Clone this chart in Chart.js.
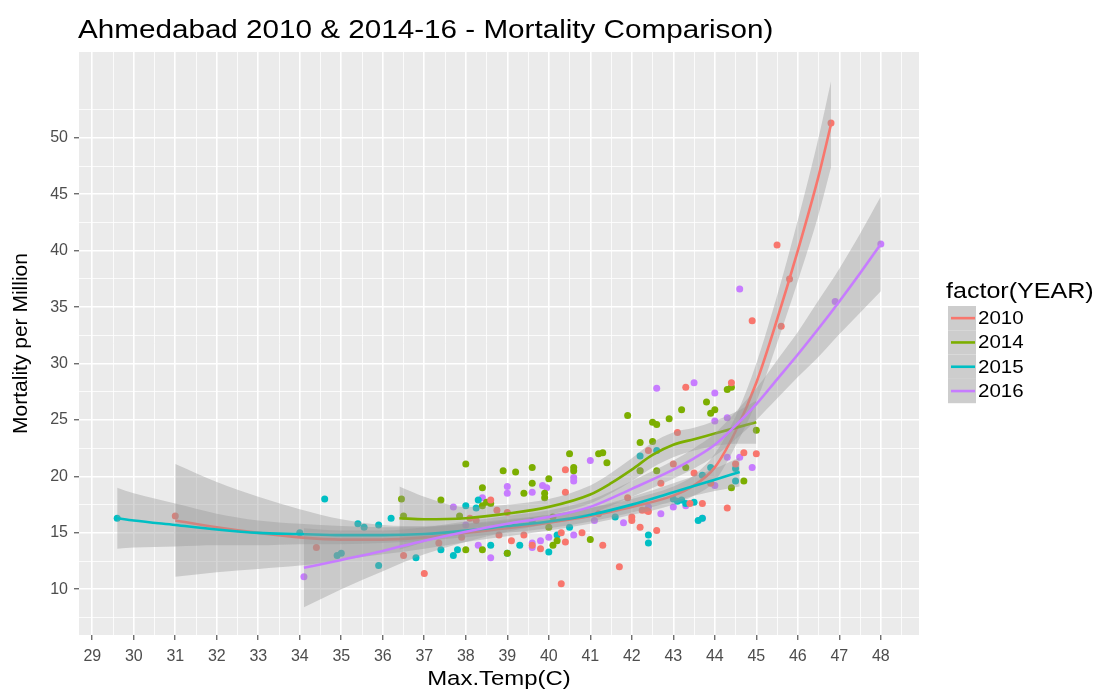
<!DOCTYPE html>
<html>
<head>
<meta charset="utf-8">
<script src="https://cdn.jsdelivr.net/npm/chart.js@4.4.1/dist/chart.umd.min.js"></script>
<style>
  html, body { margin: 0; padding: 0; background: #fff; }
</style>
</head>
<body>
<canvas id="chart" width="1098" height="692"></canvas>
<script>
const years = ['2010', '2014', '2015', '2016'];
const colors = ['#F8766D', '#7CAE00', '#00BFC4', '#C77CFF'];
const xTicks = [29, 30, 31, 32, 33, 34, 35, 36, 37, 38, 39, 40, 41, 42, 43, 44, 45, 46, 47, 48];
const yTicks = [10, 15, 20, 25, 30, 35, 40, 45, 50];

// observations: [Max.Temp, mortality per million]
const points2010 = [[31.0,16.5],[34.4,13.7],[36.5,13.0],[37.0,11.4],[37.35,14.1],[37.9,14.6],[38.1,16.3],[38.25,16.1],[38.6,17.9],[38.75,17.0],[38.8,14.8],[39.0,16.8],[39.1,14.3],[39.4,14.8],[39.6,13.9],[39.8,13.6],[40.3,15.0],[40.3,10.5],[40.4,14.2],[40.4,18.6],[40.4,20.6],[40.8,15.0],[41.2,16.7],[41.3,13.9],[41.7,12.0],[41.9,18.1],[42.0,16.4],[42.0,16.1],[42.2,15.5],[42.25,17.0],[42.35,17.0],[42.4,16.9],[42.4,22.3],[42.6,15.2],[42.7,19.4],[43.0,21.1],[43.1,23.9],[43.3,27.9],[43.4,17.6],[43.5,20.3],[43.7,17.6],[43.9,19.4],[44.3,17.2],[44.4,28.3],[44.5,21.1],[44.7,22.1],[44.9,33.8],[45.0,22.0],[45.5,40.5],[45.6,33.3],[45.8,37.5],[46.8,51.3]];
const points2014 = [[36.45,18.0],[36.5,16.5],[37.4,17.9],[37.85,16.5],[38.0,21.1],[38.0,13.5],[38.4,19.0],[38.4,17.4],[38.5,17.7],[38.6,17.6],[38.4,13.5],[38.9,20.5],[39.0,13.2],[39.2,20.4],[39.4,18.5],[39.6,19.4],[39.6,20.8],[39.9,18.5],[39.9,18.1],[40.0,19.8],[40.1,16.4],[40.0,15.5],[40.1,13.9],[40.2,14.3],[40.5,22.0],[40.6,20.8],[40.6,20.5],[41.0,14.4],[41.2,22.0],[41.3,22.1],[41.4,21.2],[41.9,25.4],[42.2,23.0],[42.2,20.5],[42.5,23.1],[42.5,24.8],[42.6,24.6],[42.6,20.5],[42.9,25.1],[43.2,25.9],[43.3,20.8],[43.8,26.6],[43.9,25.6],[44.0,25.9],[44.3,27.7],[44.4,27.9],[44.4,19.0],[44.7,19.6],[45.0,24.1]];
const points2015 = [[29.6,16.3],[34.0,15.0],[34.6,18.0],[34.9,13.0],[35.0,13.2],[35.4,15.8],[35.55,15.5],[35.9,15.7],[35.9,12.1],[36.2,16.3],[36.8,12.8],[37.4,13.5],[37.7,13.0],[37.8,13.5],[38.0,17.4],[38.25,17.2],[38.3,17.9],[38.6,13.9],[39.0,13.2],[39.3,13.9],[39.6,16.0],[40.0,13.3],[40.2,14.8],[40.5,15.5],[41.6,16.4],[42.2,21.8],[42.4,14.8],[42.4,14.1],[42.6,22.3],[43.0,18.0],[43.1,17.8],[43.2,17.9],[43.3,17.6],[43.5,17.7],[43.6,16.1],[43.7,16.3],[43.7,20.1],[43.9,20.8],[44.5,20.7],[44.5,19.6]];
const points2016 = [[34.1,11.1],[37.7,17.3],[38.0,15.7],[38.3,13.9],[38.4,18.1],[38.6,12.8],[39.0,19.1],[39.0,18.5],[39.6,18.6],[39.6,14.1],[39.6,13.7],[39.8,14.3],[39.85,19.2],[39.95,19.0],[40.0,14.6],[40.6,19.9],[40.6,19.6],[40.6,14.8],[41.0,21.4],[41.1,16.1],[41.8,15.9],[42.2,20.5],[42.4,17.3],[42.6,27.8],[42.7,16.7],[43.0,17.3],[43.3,17.4],[43.5,28.3],[43.7,16.3],[44.0,27.4],[44.0,24.9],[44.0,19.2],[44.3,25.2],[44.3,21.7],[44.6,36.6],[44.6,21.7],[44.9,20.8],[46.9,35.5],[48.0,40.6]];

// smoothed fits with their confidence bands
const fitX2010 = [31, 32, 33, 34, 35, 36, 37, 38, 39, 40, 41, 42, 43, 43.5, 44, 44.5, 45, 45.5, 46, 46.5, 46.8];
const fit2010 = [16.1, 15.5, 15.0, 14.6, 14.4, 14.4, 14.6, 15.0, 15.4, 15.9, 16.5, 17.3, 18.3, 19.2, 20.8, 24.0, 28.3, 33.9, 40.0, 46.6, 51.2];
const low2010 = [11.1, 11.5, 11.8, 12.1, 12.6, 13.1, 13.6, 14.2, 14.7, 15.2, 15.8, 16.6, 17.5, 18.3, 19.6, 22.7, 26.6, 31.8, 37.3, 43.2, 47.4];
const high2010 = [21.1, 19.5, 18.2, 17.1, 16.2, 15.7, 15.6, 15.8, 16.1, 16.6, 17.2, 18.0, 19.1, 20.1, 22.0, 25.3, 30.0, 36.0, 42.7, 50.0, 55.0];

const fitX2014 = [36.4, 37, 38, 39, 40, 41, 41.5, 42, 42.5, 43, 43.5, 44, 44.5, 45];
const fit2014 = [16.3, 16.2, 16.3, 16.7, 17.3, 18.4, 19.4, 20.6, 21.9, 22.8, 23.3, 23.8, 24.3, 24.8];
const low2014 = [13.5, 14.2, 15.3, 15.9, 16.6, 17.6, 18.5, 19.6, 20.8, 21.7, 22.3, 22.7, 22.9, 22.9];
const high2014 = [19.1, 18.2, 17.3, 17.5, 18.0, 19.2, 20.3, 21.6, 23.0, 23.9, 24.3, 24.9, 25.7, 26.7];

const fitX2015 = [29.6, 30, 31, 32, 33, 34, 35, 36, 37, 38, 39, 40, 41, 42, 43, 44, 44.6];
const fit2015 = [16.3, 16.1, 15.7, 15.3, 15.0, 14.9, 14.8, 14.8, 14.9, 15.2, 15.6, 16.0, 16.6, 17.5, 18.6, 19.7, 20.4];
const low2015 = [13.6, 13.7, 13.8, 13.9, 13.9, 14.0, 14.0, 14.1, 14.3, 14.6, 15.0, 15.4, 16.0, 16.8, 17.8, 18.7, 19.1];
const high2015 = [19.0, 18.5, 17.6, 16.7, 16.1, 15.8, 15.6, 15.5, 15.5, 15.8, 16.2, 16.6, 17.2, 18.2, 19.4, 20.7, 21.7];

const fitX2016 = [34.1, 35, 36, 37, 38, 39, 40, 41, 42, 43, 43.5, 44, 44.5, 45, 45.5, 46, 46.5, 47, 47.5, 48];
const fit2016 = [11.9, 12.6, 13.4, 14.3, 15.1, 15.8, 16.4, 17.3, 18.9, 20.6, 21.6, 22.8, 24.5, 26.4, 28.6, 30.8, 33.1, 35.5, 38.0, 40.6];
const low2016 = [8.4, 10.0, 11.6, 13.1, 14.2, 15.1, 15.8, 16.7, 18.2, 19.8, 20.7, 21.8, 23.3, 25.0, 26.9, 28.8, 30.6, 32.6, 34.5, 36.4];
const high2016 = [15.4, 15.2, 15.2, 15.5, 16.0, 16.5, 17.0, 17.9, 19.6, 21.4, 22.5, 23.8, 25.7, 27.8, 30.3, 32.8, 35.6, 38.4, 41.5, 44.8];

const allPoints = [points2010, points2014, points2015, points2016];
const fits = [
  { x: fitX2010, y: fit2010, lo: low2010, hi: high2010 },
  { x: fitX2014, y: fit2014, lo: low2014, hi: high2014 },
  { x: fitX2015, y: fit2015, lo: low2015, hi: high2015 },
  { x: fitX2016, y: fit2016, lo: low2016, hi: high2016 }
];

const ribbon = 'rgba(153,153,153,0.4)';
const font = 'Liberation Sans, Arial, sans-serif';
const stretch = 1.14; // the reference text is drawn a little wide
const pair = (xs, ys) => xs.map((x, i) => ({ x: x, y: ys[i] }));

const datasets = [];
allPoints.forEach((pts, i) => {
  datasets.push({
    type: 'scatter',
    data: pts.map(p => ({ x: p[0], y: p[1] })),
    backgroundColor: colors[i],
    borderWidth: 0,
    pointRadius: 3.5,
    order: 100
  });
});
fits.forEach((f, i) => {
  const base = 80 - i * 10;
  datasets.push({
    type: 'line', data: pair(f.x, f.hi),
    borderColor: 'transparent', borderWidth: 0, pointRadius: 0, fill: false,
    cubicInterpolationMode: 'monotone', order: base
  });
  datasets.push({
    type: 'line', data: pair(f.x, f.lo),
    borderColor: 'transparent', borderWidth: 0, pointRadius: 0,
    fill: '-1', backgroundColor: ribbon,
    cubicInterpolationMode: 'monotone', order: base - 1
  });
  datasets.push({
    type: 'line', data: pair(f.x, f.y),
    borderColor: colors[i], borderWidth: 2.6, pointRadius: 0, fill: false,
    cubicInterpolationMode: 'monotone', order: base - 2
  });
});

// major breaks plus the half-way minor lines
const xGrid = [];
xTicks.forEach(v => { xGrid.push(v); xGrid.push(v + 0.5); });
const yGrid = [yTicks[0] - 2.5];
yTicks.forEach(v => { yGrid.push(v); yGrid.push(v + 2.5); });

const panelBg = {
  id: 'panelBg',
  beforeDraw(chart) {
    const a = chart.chartArea, ctx = chart.ctx;
    ctx.save();
    ctx.fillStyle = '#EBEBEB';
    ctx.fillRect(a.left, a.top, a.right - a.left, a.bottom - a.top);
    ctx.restore();
  }
};

function wideText(ctx, text, x, y, size, align) {
  ctx.save();
  ctx.font = size + 'px ' + font;
  ctx.fillStyle = '#000';
  ctx.textBaseline = 'middle';
  ctx.textAlign = align;
  ctx.translate(x, y);
  ctx.scale(stretch, 1);
  ctx.fillText(text, 0, 0);
  ctx.restore();
}

const titleAndLegend = {
  id: 'titleAndLegend',
  afterDraw(chart) {
    const ctx = chart.ctx;
    const a = chart.chartArea;
    wideText(ctx, 'Ahmedabad 2010 & 2014-16 - Mortality Comparison)', 78, 31, 26, 'left');
    wideText(ctx, 'Max.Temp(C)', (a.left + a.right) / 2, 679, 21, 'center');
    wideText(ctx, 'factor(YEAR)', 946, 292, 22, 'left');

    ctx.save();
    const keyX = 948, keyY = 306, keyW = 28, keyH = 24.3;
    years.forEach((yr, i) => {
      const top = keyY + i * keyH;
      ctx.fillStyle = '#CDCDCD';
      ctx.fillRect(keyX, top, keyW, keyH);
      ctx.strokeStyle = colors[i];
      ctx.lineWidth = 2.6;
      ctx.beginPath();
      ctx.moveTo(keyX + 3, top + keyH / 2);
      ctx.lineTo(keyX + keyW - 1, top + keyH / 2);
      ctx.stroke();
    });
    ctx.restore();
    years.forEach((yr, i) => wideText(ctx, yr, keyX + keyW + 2, keyY + i * keyH + keyH / 2 + 1, 18, 'left'));
  }
};

const isMajorX = v => xTicks.includes(v);
const isMajorY = v => yTicks.includes(v);

new Chart(document.getElementById('chart'), {
  type: 'scatter',
  data: { datasets: datasets },
  plugins: [panelBg, titleAndLegend],
  options: {
    responsive: false,
    animation: false,
    layout: { padding: { left: 0, top: 52, right: 1098 - 919, bottom: 0 } },
    plugins: { legend: { display: false }, tooltip: { enabled: false } },
    scales: {
      x: {
        type: 'linear', min: 28.68, max: 48.92,
        afterBuildTicks(s) { s.ticks = xGrid.filter(v => v > s.min && v < s.max).map(v => ({ value: v })); },
        afterFit(s) { s.height = 692 - 635; },
        ticks: {
          autoSkip: false, maxRotation: 0, padding: 7,
          color: '#4D4D4D', font: { family: font, size: 16 },
          callback: v => isMajorX(v) ? String(v) : ''
        },
        grid: {
          color: '#FFFFFF',
          lineWidth: c => isMajorX(c.tick.value) ? 1.6 : 0.8,
          tickColor: c => isMajorX(c.tick.value) ? '#333333' : 'rgba(0,0,0,0)',
          tickLength: 5, tickWidth: 1
        },
        border: { display: false },
        title: { display: false }
      },
      y: {
        type: 'linear', min: 5.95, max: 57.6,
        afterBuildTicks(s) { s.ticks = yGrid.filter(v => v > s.min && v < s.max).map(v => ({ value: v })); },
        afterFit(s) { s.width = 79; },
        ticks: {
          autoSkip: false, padding: 6,
          color: '#4D4D4D', font: { family: font, size: 16 },
          callback: v => isMajorY(v) ? String(v) : ''
        },
        grid: {
          color: '#FFFFFF',
          lineWidth: c => isMajorY(c.tick.value) ? 1.6 : 0.8,
          tickColor: c => isMajorY(c.tick.value) ? '#333333' : 'rgba(0,0,0,0)',
          tickLength: 5, tickWidth: 1
        },
        border: { display: false },
        title: { display: true, text: 'Mortality per Million', color: '#000', font: { family: font, size: 21 }, padding: { top: 9, bottom: 0 } }
      }
    }
  }
});
</script>
</body>
</html>
